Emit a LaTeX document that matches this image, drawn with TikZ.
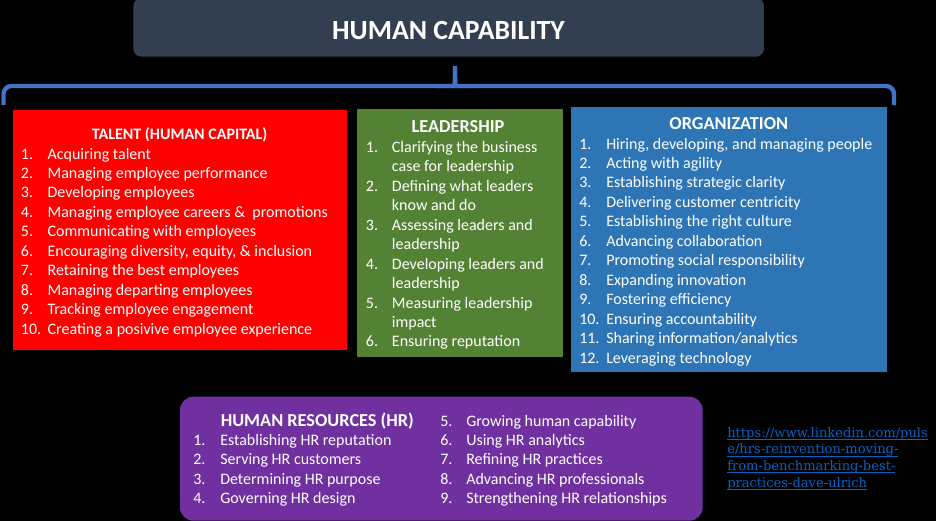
\documentclass[tikz,border=0pt]{standalone}
\usepackage{fontspec}
\setmainfont{Carlito}
\newfontfamily\linkfont{DejaVu Serif}
\usepackage{array}

\definecolor{capgray}{HTML}{333F50}
\definecolor{braceblue}{HTML}{4472C4}
\definecolor{talentred}{HTML}{FF0000}
\definecolor{leadgreen}{HTML}{548235}
\definecolor{orgblue}{HTML}{2E75B6}
\definecolor{hrpurple}{HTML}{7030A0}
\definecolor{linkblue}{HTML}{0563C1}

% underlined link line
\newcommand{\ulink}[1]{\setbox0\hbox{#1}\rlap{\rule[-1.6pt]{\wd0}{0.45pt}}\box0}

\tikzset{
  panel/.style={inner sep=0, outer sep=0, anchor=north west},
  title/.style={text=white, anchor=base, inner sep=0, font=\fontsize{20.8}{24}\selectfont\bfseries},
  head/.style={text=white, anchor=base, inner sep=0, font=\fontsize{13.7}{16}\selectfont\bfseries},
  items/.style={text=white, anchor=base west, inner sep=0, font=\fontsize{12}{14.6}\selectfont},
  brace/.style={braceblue, line width=3.3pt},
  linktext/.style={text=linkblue, anchor=base west, inner sep=0, font=\linkfont\fontsize{9.8}{12.5}\selectfont}
}

\begin{document}
\begin{tikzpicture}[x=0.75pt, y=-0.75pt]

        % Background
        \useasboundingbox (0,0) rectangle (936,521);
        \fill[black] (0,0) rectangle (936,521);

        % Title
        \node[panel, fill=capgray, rounded corners=6pt, minimum width=473pt, minimum height=44pt] (cap) at (133.3,-2) {};
        \node[title] (captext) at (448.5,40) {HUMAN CAPABILITY};

        % Brace under the title
        \coordinate (braceleft) at (3.5,105);
        \coordinate (bracetip) at (455,66);
        \coordinate (braceright) at (894,105);
        \draw[brace] (braceleft) [rounded corners=6pt] |- (449,86) [sharp corners] .. controls (455,86) .. (bracetip);
        \draw[brace] (braceright) [rounded corners=6pt] |- (461,86) [sharp corners] .. controls (455,86) .. (bracetip);

        % Talent box
        \node[panel, fill=talentred, minimum width=250.5pt, minimum height=180pt] (talent) at (12.7,110) {};
        \node[head, font=\fontsize{12}{14.6}\selectfont\bfseries] (talenthead) at (179.7,139.3) {TALENT (HUMAN CAPITAL)};
        \node[items] (talentlist) at (20.7,159) {\begin{tabular}[t]{@{}p{20pt}@{}l@{}}
            1. & Acquiring talent\\
            2. & Managing employee performance\\
            3. & Developing employees\\
            4. & Managing employee careers \&\ \ promotions\\
            5. & Communicating with employees\\
            6. & Encouraging diversity, equity, \& inclusion\\
            7. & Retaining the best employees\\
            8. & Managing departing employees\\
            9. & Tracking employee engagement\\
            10. & Creating a posivive employee experience
        \end{tabular}};

        % Leadership box
        \node[panel, fill=leadgreen, minimum width=154.5pt, minimum height=186pt] (lead) at (357.3,109) {};
        \node[head] (leadhead) at (458,132.3) {LEADERSHIP};
        \node[items] (leadlist) at (365.7,152.3) {\begin{tabular}[t]{@{}p{19.5pt}@{}l@{}}
            1. & Clarifying the business\\
               & case for leadership\\
            2. & Defining what leaders\\
               & know and do\\
            3. & Assessing leaders and\\
               & leadership\\
            4. & Developing leaders and\\
               & leadership\\
            5. & Measuring leadership\\
               & impact\\
            6. & Ensuring reputation
        \end{tabular}};

        % Organization box
        \node[panel, fill=orgblue, minimum width=236.8pt, minimum height=199pt] (org) at (571,106.7) {};
        \node[head] (orghead) at (728.8,129.3) {ORGANIZATION};
        \node[items] (orglist) at (579,149) {\begin{tabular}[t]{@{}p{20.25pt}@{}l@{}}
            1. & Hiring, developing, and managing people\\
            2. & Acting with agility\\
            3. & Establishing strategic clarity\\
            4. & Delivering customer centricity\\
            5. & Establishing the right culture\\
            6. & Advancing collaboration\\
            7. & Promoting social responsibility\\
            8. & Expanding innovation\\
            9. & Fostering efficiency\\
            10. & Ensuring accountability\\
            11. & Sharing information/analytics\\
            12. & Leveraging technology
        \end{tabular}};

        % HR box
        \node[panel, fill=hrpurple, rounded corners=10pt, minimum width=392pt, minimum height=93pt] (hr) at (180,396.7) {};
        \node[head, anchor=base west] (hrhead) at (220.5,426) {HUMAN RESOURCES (HR)};
        \node[items] (hrleft) at (193,445.5) {\begin{tabular}[t]{@{}p{20.25pt}@{}l@{}}
            1. & Establishing HR reputation\\
            2. & Serving HR customers\\
            3. & Determining HR purpose\\
            4. & Governing HR design
        \end{tabular}};
        \node[items] (hrright) at (440,426) {\begin{tabular}[t]{@{}p{19.5pt}@{}l@{}}
            5. & Growing human capability\\
            6. & Using HR analytics\\
            7. & Refining HR practices\\
            8. & Advancing HR professionals\\
            9. & Strengthening HR relationships
        \end{tabular}};

        % Source link
        \node[linktext] (source) at (727,437.3) {\begin{tabular}[t]{@{}l@{}}
            \ulink{https://www.linkedin.com/puls}\\
            \ulink{e/hrs-reinvention-moving-}\\
            \ulink{from-benchmarking-best-}\\
            \ulink{practices-dave-ulrich}
        \end{tabular}};

\end{tikzpicture}
\end{document}
